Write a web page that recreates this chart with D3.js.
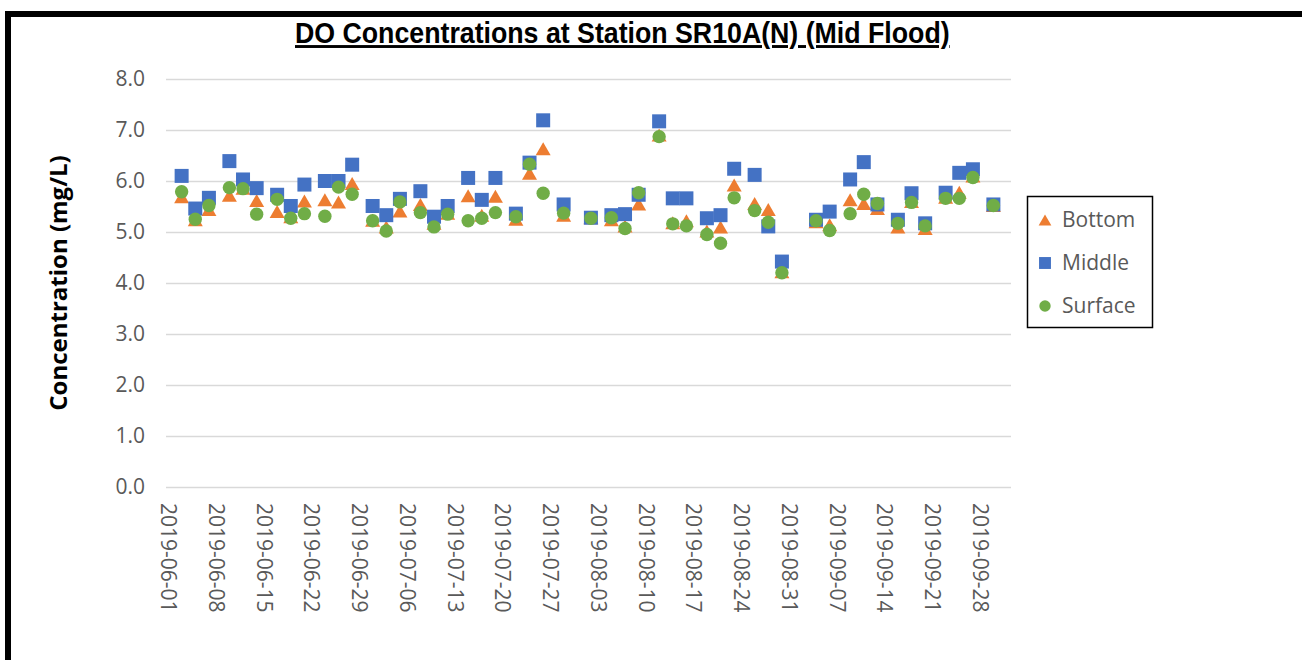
<!DOCTYPE html>
<html>
<head>
<meta charset="utf-8">
<script src="https://cdn.jsdelivr.net/npm/d3@7"></script>
<style>
body { margin: 0; background: #fff; }
svg { display: block; }
</style>
</head>
<body>
<svg width="1302" height="660"></svg>
<script>
/*
DATI
*/
var dateCampioni = [
	"2019-06-03","2019-06-05","2019-06-07","2019-06-10","2019-06-12","2019-06-14","2019-06-17","2019-06-19","2019-06-21","2019-06-24","2019-06-26","2019-06-28",
	"2019-07-01","2019-07-03","2019-07-05","2019-07-08","2019-07-10","2019-07-12","2019-07-15","2019-07-17","2019-07-19","2019-07-22","2019-07-24","2019-07-26","2019-07-29",
	"2019-08-02","2019-08-05","2019-08-07","2019-08-09","2019-08-12","2019-08-14","2019-08-16","2019-08-19","2019-08-21","2019-08-23","2019-08-26","2019-08-28","2019-08-30",
	"2019-09-04","2019-09-06","2019-09-09","2019-09-11","2019-09-13","2019-09-16","2019-09-18","2019-09-20","2019-09-23","2019-09-25","2019-09-27","2019-09-30"
]

var bottom = [5.69,5.24,5.44,5.72,5.86,5.62,5.40,5.30,5.61,5.63,5.59,5.95,
	5.23,5.10,5.41,5.54,5.17,5.37,5.71,5.33,5.70,5.25,6.15,6.63,5.33,
	5.28,5.24,5.12,5.55,6.90,5.18,5.22,5.02,5.10,5.92,5.56,5.44,4.22,
	5.20,5.14,5.63,5.56,5.46,5.10,5.60,5.07,5.68,5.78,6.10,5.52]

var middle = [6.10,5.46,5.67,6.39,6.03,5.86,5.73,5.51,5.93,6.00,6.00,6.32,
	5.51,5.33,5.65,5.80,5.30,5.51,6.06,5.63,6.06,5.36,6.36,7.19,5.54,
	5.28,5.33,5.35,5.73,7.17,5.66,5.66,5.27,5.33,6.24,6.12,5.11,4.42,
	5.24,5.40,6.03,6.37,5.54,5.24,5.76,5.17,5.77,6.16,6.23,5.54]

var surface = [5.79,5.25,5.52,5.87,5.85,5.35,5.64,5.27,5.36,5.31,5.88,5.74,
	5.22,5.02,5.59,5.38,5.10,5.35,5.22,5.27,5.38,5.30,6.33,5.76,5.37,
	5.27,5.28,5.07,5.77,6.87,5.16,5.12,4.95,4.78,5.67,5.42,5.19,4.20,
	5.22,5.03,5.36,5.74,5.56,5.17,5.58,5.12,5.66,5.66,6.07,5.52]

var yTicks = [0,1,2,3,4,5,6,7,8]
var primaEtichetta = "2019-06-01"
var ultimaEtichetta = "2019-09-28"
var serie = ["Bottom","Middle","Surface"]
var colori = ["#ED7D31","#4472C4","#70AD47"]

var svg = d3.select("svg")
var parse = d3.utcParse("%Y-%m-%d")
var fmt = d3.utcFormat("%Y-%m-%d")

/*
SCALE
*/
var inizio = parse(primaEtichetta)
var x = d3.scaleUtc()
	.domain([d3.utcHour.offset(inizio, -7), d3.utcHour.offset(inizio, 123.6*24)])
	.range([166, 1011])
var y = d3.scaleLinear().domain([0,8]).range([487,79])

/*
CORNICE
*/
svg.append("path")
	.attr("d", "M8,660 L8,14 L1302,14")
	.attr("fill","none")
	.attr("stroke","#000")
	.attr("stroke-width",6)

/*
TITOLO - stretto in orizzontale come un Arial Narrow
*/
var titolo = svg.append("text")
	.attr("y", 43)
	.attr("font-family","Liberation Sans, Arial, sans-serif")
	.attr("font-weight","bold")
	.attr("font-size", 29)
	.attr("text-decoration","underline")
	.text("DO Concentrations at Station SR10A(N) (Mid Flood)")
var lung = titolo.node().getComputedTextLength()
var sx = 655/lung
titolo.attr("transform","translate(295,0) scale("+sx+",1)")

/*
GRIGLIA E ASSE Y
*/
var gy = svg.append("g")
	.attr("transform","translate(166,0)")
	.call(d3.axisLeft(y).tickValues(yTicks).tickSize(-845).tickFormat(d3.format(".1f")))
gy.select(".domain").remove()
gy.selectAll("line").attr("stroke","#d9d9d9").attr("stroke-width",1.5)
gy.selectAll("text")
	.attr("x",-21)
	.attr("fill","#595959")
	.attr("font-family","'Open Sans', sans-serif")
	.attr("font-size",21)

svg.append("text")
	.attr("transform","translate(67,283) rotate(-90)")
	.attr("text-anchor","middle")
	.attr("font-family","'Open Sans', sans-serif")
	.attr("font-weight","bold")
	.attr("font-size",24)
	.text("Concentration (mg/L)")

/*
ASSE X
*/
var tickDate = d3.utcDay.range(inizio, d3.utcDay.offset(parse(ultimaEtichetta),1), 7)
var gx = svg.append("g")
	.attr("transform","translate(0,487)")
	.call(d3.axisBottom(x).tickValues(tickDate).tickSize(0).tickFormat(fmt))
gx.select(".domain").remove()
gx.selectAll("text")
	.attr("transform","rotate(90)")
	.attr("x",16)
	.attr("y",0)
	.attr("dy","0.35em")
	.attr("text-anchor","start")
	.attr("fill","#595959")
	.attr("font-family","'Open Sans', sans-serif")
	.attr("font-size",21)

/*
SIMBOLI
*/
function simbolo(sel, tipo, colore, scala){
	if (tipo==0){
		sel.append("path")
			.attr("d", "M0,"+(-6.5*scala)+" L"+(7.5*scala)+","+(6.5*scala)+" L"+(-7.5*scala)+","+(6.5*scala)+" Z")
			.attr("fill", colore)
	} else if (tipo==1){
		sel.append("rect")
			.attr("x",-7*scala).attr("y",-7*scala)
			.attr("width",14*scala).attr("height",14*scala)
			.attr("fill", colore)
	} else {
		sel.append("circle")
			.attr("r",6.7*scala)
			.attr("fill", colore)
	}
}

var valori = [bottom, middle, surface]
valori.forEach(function(v, s){
	var g = svg.append("g").attr("class","serie"+s)
	g.selectAll("g")
		.data(v)
		.enter().append("g")
		.attr("transform", function(d,i){
			return "translate("+x(parse(dateCampioni[i]))+","+y(d)+")"
		})
		.each(function(){ simbolo(d3.select(this), s, colori[s], 1) })
})

/*
LEGENDA
*/
svg.append("rect")
	.attr("x",1027.5).attr("y",196.5)
	.attr("width",125).attr("height",131)
	.attr("fill","#fff")
	.attr("stroke","#000")
	.attr("stroke-width",1.5)

serie.forEach(function(nome, s){
	var yy = 220 + s*43
	var g = svg.append("g").attr("transform","translate(1045,"+yy+")")
	simbolo(g, s, colori[s], 0.85)
	svg.append("text")
		.attr("x",1062)
		.attr("y",yy)
		.attr("dy","0.35em")
		.attr("fill","#595959")
		.attr("font-family","'Open Sans', sans-serif")
		.attr("font-size",21)
		.text(nome)
})
</script>
</body>
</html>
